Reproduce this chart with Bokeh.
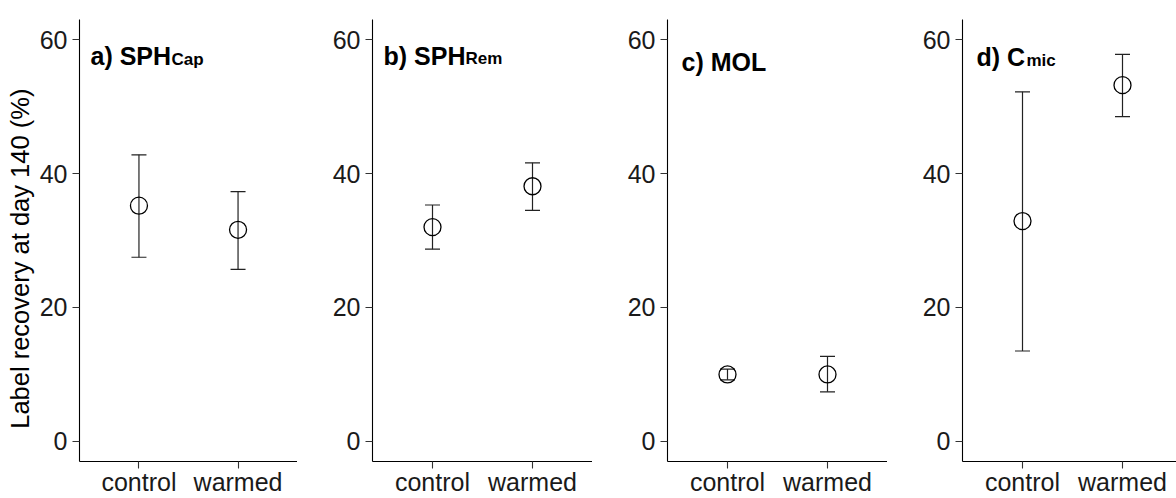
import math
from bokeh.plotting import figure
from bokeh.layouts import row
from bokeh.models import Range1d, FixedTicker, Whisker, TeeHead, ColumnDataSource
from bokeh.core.properties import value
from bokeh.embed import file_html
from bokeh.resources import INLINE

# ---------------- data ----------------
groups = ["control", "warmed"]
panel_titles = ["a) SPH", "b) SPH", "c) MOL", "d) C"]
panel_subs = ["Cap", "Rem", "", "mic"]

mean_a = [35.2, 31.6]
upper_a = [42.8, 37.3]
lower_a = [27.5, 25.7]

mean_b = [32.0, 38.1]
upper_b = [35.3, 41.6]
lower_b = [28.7, 34.5]

mean_c = [10.0, 10.0]
upper_c = [10.8, 12.7]
lower_c = [9.2, 7.4]

mean_d = [32.9, 53.2]
upper_d = [52.2, 57.8]
lower_d = [13.5, 48.5]

y_ticks = [0, 20, 40, 60]
y_label = "Label recovery at day 140 (%)"

# ---------------- layout / style ----------------
FONT = "Liberation Sans"
FIG_H = 498
Y0, Y1 = -3, 63
X0 = 0.4
PX_PER_X = 100.0
LAB_W = 36
widths = [261, 295, 295, 289]
borders_left = [41, 75, 75, 75]
borders_top = [19, 15, 10, 15]
border_bottom = 35
title_base_px = [55.7, 51.7, 53.3, 53.3]   # baseline of panel titles, px from top
title_xoff = [11, 11, 14, 14]
sub_xoff = [92, 93, 0, 64]
ylab_center_px = 269.5                      # px from top (compensated)

means = [mean_a, mean_b, mean_c, mean_d]
uppers = [upper_a, upper_b, upper_c, upper_d]
lowers = [lower_a, lower_b, lower_c, lower_d]

xs = [i + 1 for i in range(len(groups))]

# y-axis title strip (its own small figure so the text is not clipped)
lab = figure(width=LAB_W, height=FIG_H, output_backend="svg", toolbar_location=None,
             x_range=Range1d(0, LAB_W), y_range=Range1d(0, FIG_H),
             x_axis_type=None, y_axis_type=None, min_border=0)
lab.outline_line_color = None
lab.grid.visible = False
lab.text(x=[19.5], y=[FIG_H - ylab_center_px], text=[y_label], angle=math.pi / 2,
         text_font=value(FONT), text_font_size="25.5px", text_color="black",
         text_align="center", text_baseline="middle")

figs = [lab]
for k in range(4):
    frame_w = widths[k] - borders_left[k]
    frame_h = FIG_H - borders_top[k] - border_bottom
    x_end = X0 + frame_w / PX_PER_X
    p = figure(width=widths[k], height=FIG_H, output_backend="svg", toolbar_location=None,
               x_range=Range1d(X0, x_end), y_range=Range1d(Y0, Y1),
               min_border=0, min_border_left=borders_left[k], min_border_top=borders_top[k],
               min_border_right=0, min_border_bottom=border_bottom)
    p.outline_line_color = None
    p.grid.visible = False
    p.background_fill_color = "white"
    p.border_fill_color = "white"

    for ax in (p.xaxis[0], p.yaxis[0]):
        ax.axis_line_color = "black"
        ax.axis_line_width = 1.1
        ax.major_tick_line_color = "#333333"
        ax.major_tick_line_width = 1.1
        ax.major_tick_out = 7
        ax.major_tick_in = 0
        ax.minor_tick_line_color = None
        ax.major_label_text_font = FONT
        ax.major_label_text_font_size = "25px"
        ax.major_label_text_color = "#1a1a1a"
        ax.axis_label_standoff = 0

    p.xaxis.ticker = FixedTicker(ticks=xs)
    p.xaxis.major_label_overrides = {x: g for x, g in zip(xs, groups)}
    p.xaxis.major_label_standoff = -1
    p.yaxis.ticker = FixedTicker(ticks=y_ticks)
    p.yaxis.major_label_standoff = 5

    src = ColumnDataSource(dict(x=xs, y=means[k], upper=uppers[k], lower=lowers[k]))
    w = Whisker(source=src, base="x", upper="upper", lower="lower", dimension="height",
                line_color="#222222", line_width=1.2,
                upper_head=TeeHead(size=15, line_color="#222222", line_width=1.2),
                lower_head=TeeHead(size=15, line_color="#222222", line_width=1.2))
    p.add_layout(w)
    p.scatter("x", "y", source=src, marker="circle", size=17, fill_color=None,
              line_color="black", line_width=1.3)

    ty = Y1 - (title_base_px[k] - borders_top[k]) * (Y1 - Y0) / frame_h
    p.text(x=[X0], y=[ty], text=[panel_titles[k]], x_offset=title_xoff[k],
           text_font=value(FONT), text_font_size="25px", text_font_style="bold",
           text_baseline="alphabetic", text_align="left", text_color="black")
    if panel_subs[k]:
        p.text(x=[X0], y=[ty], text=[panel_subs[k]], x_offset=sub_xoff[k],
               y_offset=3, text_font=value(FONT), text_font_size="17px",
               text_font_style="bold", text_baseline="alphabetic", text_align="left",
               text_color="black")
    figs.append(p)

layout = row(*figs, spacing=0)
open("out.html", "w").write(file_html(layout, INLINE))
